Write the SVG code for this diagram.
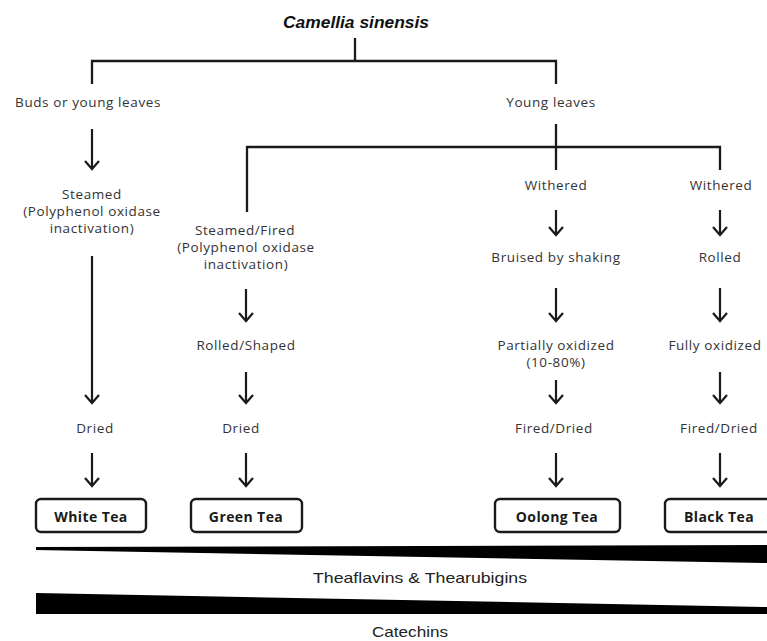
<svg xmlns="http://www.w3.org/2000/svg" width="767" height="641" viewBox="0 0 767 641">
<defs>
<style>
.t{font-family:"Open Sans","Liberation Sans",sans-serif;font-size:13.5px;letter-spacing:0.6px;fill:#333;text-anchor:middle}
.b{font-family:"Open Sans","Liberation Sans",sans-serif;font-size:14px;letter-spacing:0.4px;font-weight:bold;fill:#1a1a1a;text-anchor:middle}
.ln{fill:none;stroke:#1a1a1a;stroke-width:2.3}
.ar{fill:none;stroke:#1a1a1a;stroke-width:2.2}
.hd{fill:none;stroke:#1a1a1a;stroke-width:2.2;stroke-linejoin:miter}
.bx{fill:#fff;stroke:#1a1a1a;stroke-width:2.4}
.a{font-family:"Liberation Sans",Arial,sans-serif;font-size:15px;fill:#222;text-anchor:middle}
</style>
</defs>
<rect width="767" height="641" fill="#fff"/>
<g id="connectors">
<path class="ln" d="M355 38V61M92 84V61H556V84"/>
<path class="ln" d="M556 124V170M247 212V147H720V170"/>
<path class="ar" d="M92 129V168M92 256V402M246 289V320M246 372V402M92 453V485M246 453V485M556 210V234M556 288V320M556 380V402M556 453V485M720 210V234M720 288V320M720 372V402M720 453V485"/>
<path class="hd" d="M85 161L92 169L99 161M85 395L92 403L99 395M239 313L246 321L253 313M239 395L246 403L253 395M85 478L92 486L99 478M239 478L246 486L253 478M549 227L556 235L563 227M549 313L556 321L563 313M549 395L556 403L563 395M549 478L556 486L563 478M713 227L720 235L727 227M713 313L720 321L727 313M713 395L720 403L727 395M713 478L720 486L727 478"/>
</g>
<g id="title"><text x="356" y="28" textLength="146" lengthAdjust="spacingAndGlyphs" style="font-family:'Liberation Sans',Arial,sans-serif;font-size:16px;font-weight:bold;font-style:italic;fill:#111;text-anchor:middle">Camellia sinensis</text></g>
<g id="buds"><text class="t" x="88" y="107">Buds or young leaves</text></g>
<g id="young"><text class="t" x="551" y="107">Young leaves</text></g>
<g id="white-steamed"><text class="t" x="92" y="199">Steamed</text><text class="t" x="92" y="216">(Polyphenol oxidase</text><text class="t" x="92" y="233">inactivation)</text></g>
<g id="green-steamed"><text class="t" x="245" y="235">Steamed/Fired</text><text class="t" x="246" y="252">(Polyphenol oxidase</text><text class="t" x="246" y="269">inactivation)</text></g>
<g id="green-rolled"><text class="t" x="246" y="350">Rolled/Shaped</text></g>
<g id="white-dried"><text class="t" x="95" y="433">Dried</text></g>
<g id="green-dried"><text class="t" x="241" y="433">Dried</text></g>
<g id="oolong-withered"><text class="t" x="556" y="190">Withered</text></g>
<g id="black-withered"><text class="t" x="721" y="190">Withered</text></g>
<g id="oolong-bruised"><text class="t" x="556" y="262">Bruised by shaking</text></g>
<g id="black-rolled"><text class="t" x="720" y="262">Rolled</text></g>
<g id="oolong-partial"><text class="t" x="556" y="350">Partially oxidized</text><text class="t" x="556" y="367">(10-80%)</text></g>
<g id="black-fully"><text class="t" x="715" y="350">Fully oxidized</text></g>
<g id="oolong-fired"><text class="t" x="554" y="433">Fired/Dried</text></g>
<g id="black-fired"><text class="t" x="719" y="433">Fired/Dried</text></g>
<g id="white-tea"><rect class="bx" x="36" y="499" width="110" height="33" rx="5"/><text class="b" x="91" y="522">White Tea</text></g>
<g id="green-tea"><rect class="bx" x="191" y="499" width="111" height="33" rx="5"/><text class="b" x="246" y="522">Green Tea</text></g>
<g id="oolong-tea"><rect class="bx" x="495" y="499" width="125" height="33" rx="5"/><text class="b" x="557" y="522">Oolong Tea</text></g>
<g id="black-tea"><rect class="bx" x="665" y="499" width="112" height="33" rx="5"/><text class="b" x="719" y="522">Black Tea</text></g>
<g id="wedges">
<path d="M36 547L767 545V563L36 550Z" fill="#000"/>
<path d="M36 593L767 607V614H36Z" fill="#000"/>
</g>
<g id="labels">
<text class="a" x="420" y="583" textLength="214" lengthAdjust="spacingAndGlyphs">Theaflavins &amp; Thearubigins</text>
<text class="a" x="410" y="637" textLength="76" lengthAdjust="spacingAndGlyphs">Catechins</text>
</g>
</svg>
